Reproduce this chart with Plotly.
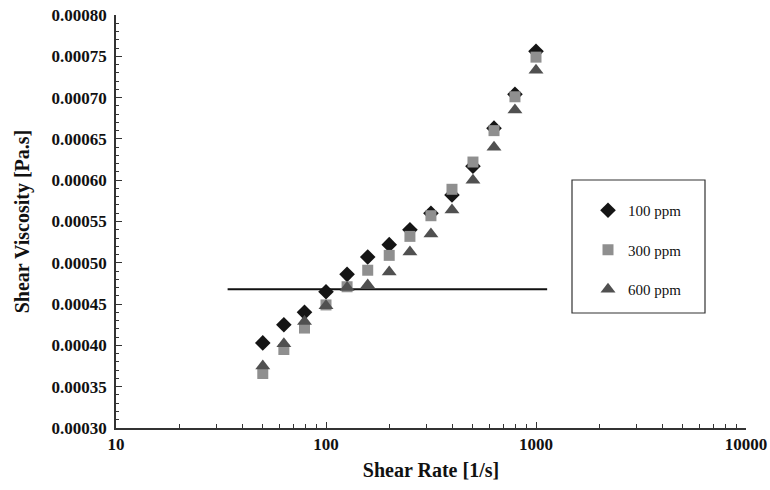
import plotly.graph_objects as go

shear_rate = [50, 63, 79, 100, 126, 158, 200, 251, 316, 398, 501, 631, 794, 1000]
visc_100ppm = [0.000403, 0.000425, 0.000440, 0.000465, 0.000486, 0.000507, 0.000522,
               0.000540, 0.000560, 0.000582, 0.000617, 0.000663, 0.000704, 0.000756]
visc_300ppm = [0.000366, 0.000395, 0.000421, 0.000449, 0.000471, 0.000491, 0.000509,
               0.000532, 0.000557, 0.000589, 0.000622, 0.000660, 0.000701, 0.000749]
visc_600ppm = [0.000375, 0.000402, 0.000429, 0.000448, 0.000470, 0.000473, 0.000489,
               0.000513, 0.000535, 0.000564, 0.000600, 0.000640, 0.000685, 0.000733]
ref_line_x = [34, 1130]
ref_line_y = [0.000468, 0.000468]
x_tick_vals = [10, 100, 1000, 10000]
x_tick_text = ["10", "100", "1000", "10000"]

SERIF = "Liberation Serif, Times New Roman, serif"

fig = go.Figure()
fig.add_trace(go.Scatter(x=ref_line_x, y=ref_line_y, mode="lines",
                         line=dict(color="#111111", width=2), showlegend=False,
                         hoverinfo="skip"))
fig.add_trace(go.Scatter(x=shear_rate, y=visc_100ppm, mode="markers", name="100 ppm",
                         legendgroup="a",
                         marker=dict(symbol="diamond", size=12, color="#151515")))
fig.add_trace(go.Scatter(x=shear_rate, y=visc_300ppm, mode="markers", name="300 ppm",
                         legendgroup="b",
                         marker=dict(symbol="square", size=11, color="#8f8f8f")))
fig.add_trace(go.Scatter(x=shear_rate, y=visc_600ppm, mode="markers", name="600 ppm",
                         legendgroup="c",
                         marker=dict(symbol="triangle-up", size=13, color="#505050")))

fig.add_shape(type="rect", xref="paper", yref="paper",
              x0=(572 - 116) / 630, x1=(705 - 116) / 630,
              y0=(428 - 313) / 413, y1=(428 - 180) / 413,
              line=dict(color="#333333", width=1.2), fillcolor="rgba(0,0,0,0)")

fig.update_layout(
    width=770, height=490,
    margin=dict(l=116, r=24, t=15, b=62, autoexpand=False),
    paper_bgcolor="white", plot_bgcolor="white",
    font=dict(family=SERIF, color="#111111"),
    showlegend=True,
    legend=dict(x=(588 - 116) / 630, y=(428 - 194) / 413, xanchor="left", yanchor="top",
                bgcolor="rgba(0,0,0,0)", borderwidth=0,
                font=dict(family="Liberation Serif, serif", size=15, color="#111111"),
                traceorder="grouped", tracegroupgap=17, itemwidth=30),
)
fig.update_xaxes(type="log", range=[1, 4], tickvals=x_tick_vals, ticktext=x_tick_text,
                 automargin=False, ticklabeloverflow="allow",
                 ticks="inside", ticklen=6, tickcolor="#333333", tickwidth=1,
                 minor=dict(ticks="inside", ticklen=4, dtick="D1", tickcolor="#333333"),
                 showgrid=False, zeroline=False, showline=True, linecolor="#333333",
                 linewidth=1.5,
                 tickfont=dict(family=SERIF, size=17, color="#111111", weight="bold"),
                 title=dict(text="Shear Rate [1/s]", standoff=10,
                            font=dict(family=SERIF, size=20, color="#111111", weight="bold")))
fig.update_yaxes(range=[0.0003, 0.0008], dtick=0.00005, tick0=0.0003, tickformat=".5f",
                 automargin=False, ticklabelstandoff=4, ticklabeloverflow="allow",
                 ticks="inside", ticklen=6, tickcolor="#333333", tickwidth=1,
                 minor=dict(ticks="inside", ticklen=3, dtick=0.00001, tickcolor="#333333"),
                 showgrid=False, zeroline=False, showline=True, linecolor="#333333",
                 linewidth=1.5,
                 tickfont=dict(family=SERIF, size=17, color="#111111", weight="bold"),
                 title=dict(text="Shear Viscosity [Pa.s]", standoff=17,
                            font=dict(family=SERIF, size=20, color="#111111", weight="bold")))

fig.write_html("out.html", config={"displayModeBar": False},
               post_script="document.body.style.margin='0';document.body.style.overflow='hidden';")
